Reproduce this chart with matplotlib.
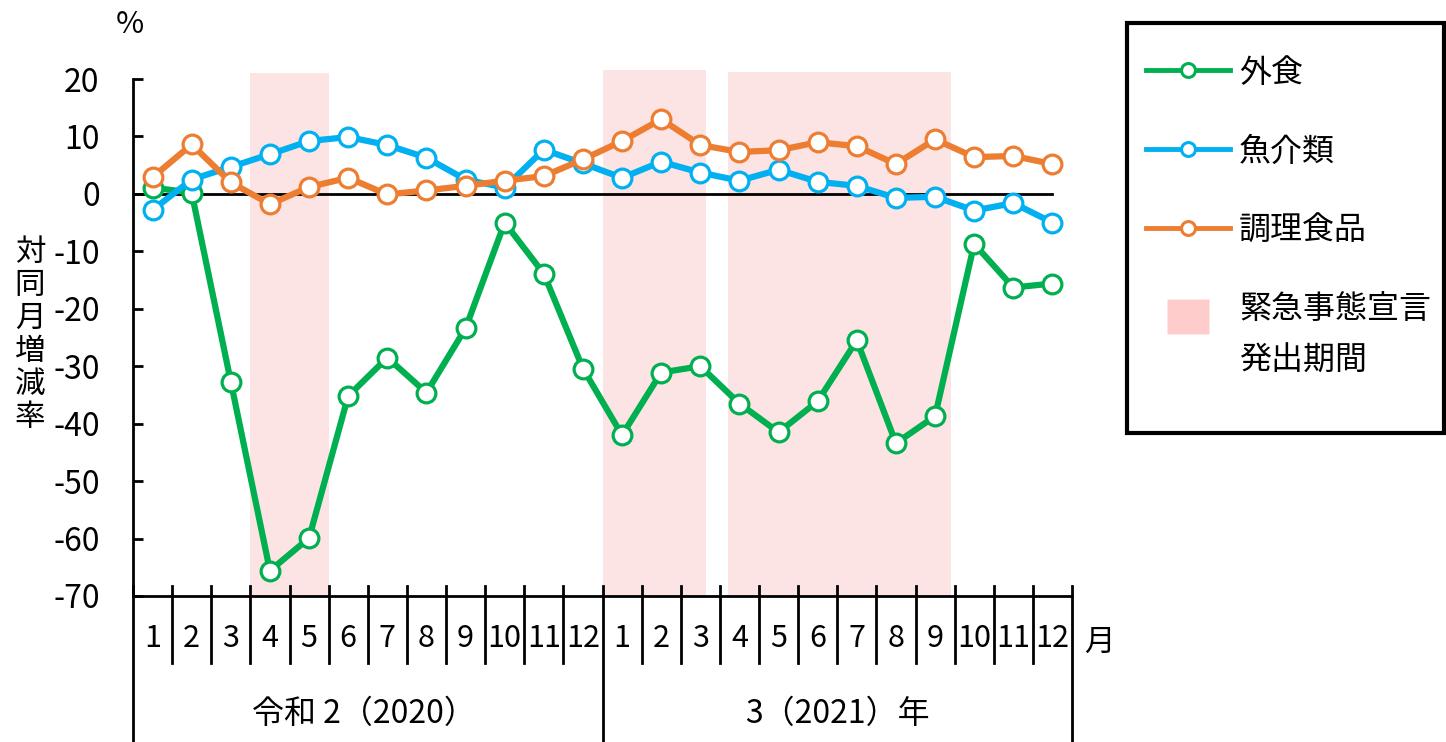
import numpy as np
from matplotlib import pyplot as plt
from matplotlib.lines import Line2D
from matplotlib.patches import Rectangle
from matplotlib.path import Path

plt.rcParams['font.family'] = ['Noto Sans CJK JP', 'DejaVu Sans']
plt.rcParams['font.size'] = 23
plt.rcParams['axes.unicode_minus'] = False

month_labels = [str(m) for m in range(1, 13)] * 2
year_labels = ["令和 2（2020）", "3（2021）年"]

gaishoku = [1.1, 0.2, -32.7, -65.6, -59.9, -35.2, -28.5, -34.6, -23.4, -5.0, -13.9, -30.4,
            -42.0, -31.1, -30.0, -36.5, -41.5, -36.1, -25.5, -43.4, -38.7, -8.7, -16.3, -15.6]
gyokai = [-2.8, 2.5, 4.7, 6.9, 9.2, 9.9, 8.5, 6.3, 2.5, 1.1, 7.7, 5.3,
          2.8, 5.6, 3.7, 2.3, 4.2, 2.1, 1.4, -0.7, -0.5, -2.9, -1.6, -5.0]
chori = [2.9, 8.6, 2.0, -1.8, 1.2, 2.8, -0.1, 0.6, 1.4, 2.3, 3.1, 6.0,
         9.2, 13.0, 8.5, 7.3, 7.6, 9.0, 8.3, 5.2, 9.5, 6.4, 6.6, 5.2]

# emergency declaration periods (start, end, top) in month positions
span_start = [3.5, 12.5, 15.7]
span_end = [5.5, 15.15, 21.4]
span_top = [21.0, 21.6, 21.2]

c_green = '#00B050'
c_blue = '#00B0F0'
c_orange = '#ED7D31'
c_shade = '#FDE4E4'
c_patch = '#FFCCCC'

x = np.arange(1, 25)

fig = plt.figure(figsize=(14.46, 7.42), dpi=100)
ax = fig.add_axes([133 / 1446, 1 - 596 / 742, (1072 - 133) / 1446, (596 - 79) / 742])

for s, e, t in zip(span_start, span_end, span_top):
    ax.fill_between([s, e], -70, t, color=c_shade, lw=0, zorder=0, clip_on=False)

ax.plot([0.5, 24], [0, 0], color='black', lw=2, zorder=1)

style = dict(lw=4.5, marker='o', ms=13.5, mfc='white', mew=2.3)
ax.plot(x, gaishoku, color=c_green, mec=c_green, zorder=3, **style)
ax.plot(x, gyokai, color=c_blue, mec=c_blue, zorder=4, **style)
ax.plot(x, chori, color=c_orange, mec=c_orange, zorder=5, **style)

ax.set_xlim(0.5, 24.5)
ax.set_ylim(-70, 20)
ax.set_yticks(np.arange(-70, 21, 10))
ax.tick_params(axis='y', direction='in', length=7, width=2, pad=24, labelsize=23)
ax.set_xticks([])
for sp in ['top', 'right']:
    ax.spines[sp].set_visible(False)
ax.spines['left'].set_linewidth(2)
ax.spines['bottom'].set_linewidth(2)

# month/year table below the axis
tr = ax.get_xaxis_transform()
for b in np.arange(0.5, 25, 1):
    if b in (0.5, 12.5, 24.5):
        ax.plot([b, b], [0.019, -0.33], color='black', lw=2, transform=tr, clip_on=False)
    else:
        ax.plot([b, b], [0.019, -0.13], color='black', lw=2, transform=tr, clip_on=False)
for xi, lab in zip(x, month_labels):
    ax.text(xi, -0.083, lab, transform=tr, ha='center', va='center', fontsize=22)
ax.text(6.4, -0.228, year_labels[0], transform=tr, ha='center', va='center')
ax.text(18.5, -0.228, year_labels[1], transform=tr, ha='center', va='center')
ax.text(25.2, -0.09, "月", transform=tr, ha='center', va='center', fontsize=22)

ax.text(0.42, 1.105, "%", transform=tr, ha='center', va='center', fontsize=22)
fig.text(30 / 1446, 1 - 335 / 742, "対\n同\n月\n増\n減\n率", ha='center', va='center',
         fontsize=22, linespacing=1.08)

# square marker sitting a bit above the handle centre (aligned with first text line)
sq = Path([(-0.55, 0.05), (0.55, 0.05), (0.55, 1.0), (-0.55, 1.0), (-0.55, 0.05)],
          [Path.MOVETO, Path.LINETO, Path.LINETO, Path.LINETO, Path.CLOSEPOLY])

handles = [
    Line2D([], [], color=c_green, lw=3.5, marker='o', ms=10, mfc='white', mec=c_green, mew=2.2),
    Line2D([], [], color=c_blue, lw=3.5, marker='o', ms=10, mfc='white', mec=c_blue, mew=2.2),
    Line2D([], [], color=c_orange, lw=3.5, marker='o', ms=10, mfc='white', mec=c_orange, mew=2.2),
    Line2D([], [], ls='none', marker=sq, ms=54, mfc=c_patch, mec='none'),
]
labels = ["外食", "魚介類", "調理食品", "緊急事態宣言\n発出期間"]
leg = fig.legend(handles, labels, loc='upper left',
                 bbox_to_anchor=(1112 / 1446, 1 - 23 / 742),
                 frameon=False, handlelength=2.63, handletextpad=0.3,
                 labelspacing=1.47, borderpad=1.05, borderaxespad=0, fontsize=23)
leg.get_texts()[3].set_linespacing(1.78)

# legend frame
fig.patches.append(Rectangle((1127 / 1446, 1 - 433 / 742), (1444 - 1127) / 1446, (433 - 23) / 742,
                             transform=fig.transFigure, fill=False, edgecolor='black', lw=3))

fig.savefig("out.png", dpi=100)
